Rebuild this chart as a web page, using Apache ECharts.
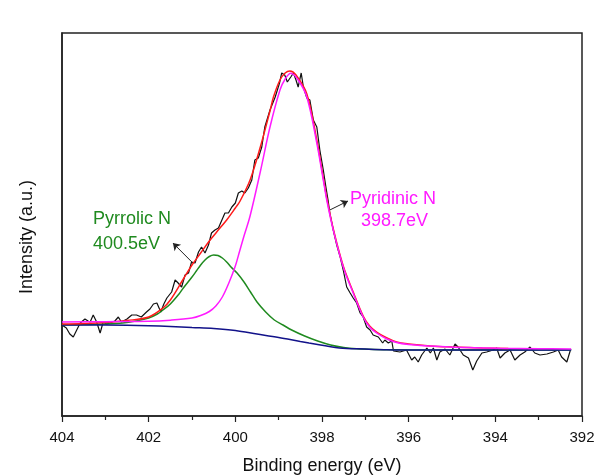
<!DOCTYPE html>
<html>
<head>
<meta charset="utf-8" />
<title>N 1s XPS</title>
<script src="https://cdn.jsdelivr.net/npm/echarts@6/dist/echarts.min.js"></script>
<style>
  html, body { margin: 0; padding: 0; background: #fff; }
  #chart { width: 602px; height: 476px; }
</style>
</head>
<body>
<div id="chart"></div>
<script>
// binding energy (eV) ticks
var xTicks = [404, 402, 400, 398, 396, 394, 392];

// raw spectrum [eV, intensity]
var rawData = [
  [404.0, 91], [403.9, 88], [403.82, 82], [403.74, 79], [403.66, 86], [403.58, 93], [403.47, 97],
  [403.4, 95], [403.35, 94], [403.28, 101], [403.2, 94], [403.12, 83], [403.05, 94], [402.97, 92],
  [402.9, 93], [402.78, 95], [402.7, 99], [402.63, 94], [402.5, 97], [402.39, 101], [402.28, 101],
  [402.17, 99], [402.05, 104], [401.97, 107], [401.89, 112], [401.81, 113], [401.72, 104],
  [401.65, 112], [401.58, 118], [401.47, 124], [401.39, 136], [401.32, 133], [401.24, 129],
  [401.16, 141], [401.08, 143], [401.01, 154], [400.93, 153], [400.85, 164], [400.78, 169],
  [400.7, 163], [400.62, 171], [400.55, 183], [400.47, 186], [400.39, 188], [400.31, 196],
  [400.24, 203], [400.16, 203], [400.08, 209], [400.0, 213], [399.93, 223], [399.85, 225],
  [399.78, 223], [399.7, 228], [399.62, 236], [399.55, 256], [399.47, 258], [399.39, 269],
  [399.32, 289], [399.2, 306], [399.08, 319], [398.98, 333], [398.93, 343], [398.86, 341],
  [398.8, 334], [398.72, 339], [398.66, 343], [398.6, 336], [398.55, 329], [398.48, 343],
  [398.43, 329], [398.35, 318], [398.28, 316], [398.2, 296], [398.12, 289], [398.05, 266],
  [397.97, 246], [397.91, 229], [397.86, 216], [397.82, 203], [397.74, 186], [397.66, 171],
  [397.58, 159], [397.51, 146], [397.43, 129], [397.35, 123], [397.28, 118], [397.2, 113],
  [397.12, 103], [397.05, 99], [396.97, 89], [396.89, 86], [396.82, 81], [396.7, 79],
  [396.6, 73], [396.55, 76], [396.47, 73], [396.39, 75], [396.35, 65], [396.2, 64],
  [396.05, 66], [395.93, 56], [395.86, 59], [395.78, 54], [395.7, 61], [395.58, 68],
  [395.5, 63], [395.43, 68], [395.35, 56], [395.28, 64], [395.16, 67], [395.05, 61],
  [394.93, 72], [394.86, 69], [394.74, 61], [394.62, 58], [394.52, 46], [394.43, 55],
  [394.31, 63], [394.2, 64], [394.05, 66], [393.97, 68], [393.89, 58], [393.78, 63],
  [393.66, 66], [393.55, 56], [393.43, 61], [393.32, 64], [393.2, 69], [393.09, 63],
  [392.97, 61], [392.81, 62], [392.66, 64], [392.55, 66], [392.47, 59], [392.35, 54],
  [392.26, 67]
];

// envelope fit
var fitData = [
  [404, 92], [403.5, 92.5], [403, 93.5], [402.5, 95.5], [402, 99], [401.67, 108], [401.5, 116],
  [401.2, 137], [401, 151], [400.8, 163], [400.6, 175], [400.43, 184], [400.2, 196], [400, 208],
  [399.89, 215], [399.66, 236], [399.43, 268], [399.2, 305], [399.12, 319], [398.97, 336],
  [398.85, 343], [398.74, 345], [398.6, 341], [398.35, 322], [398.12, 276], [397.97, 238],
  [397.89, 218], [397.74, 187], [397.51, 150], [397.28, 124], [397.05, 100], [396.9, 90],
  [396.74, 84], [396.5, 78], [396.28, 74], [396, 72], [395.5, 70], [395, 69], [394.3, 68],
  [393.7, 67.5]
];

// Pyridinic N component (398.7 eV)
var pyridinicData = [
  [404, 94], [403, 94.3], [402, 94.7], [401.5, 95.8], [401, 98], [400.8, 100.5], [400.6, 104.5],
  [400.45, 110], [400.3, 119], [400.15, 133], [400, 150], [399.9, 165], [399.8, 180],
  [399.66, 200], [399.43, 243], [399.2, 289], [398.97, 326], [398.85, 337], [398.72, 342.7],
  [398.55, 336], [398.35, 319], [398.12, 273], [397.97, 236], [397.89, 216], [397.74, 186],
  [397.51, 149], [397.28, 123], [397.05, 99], [396.9, 89], [396.74, 83], [396.5, 77],
  [396.28, 73.5], [396, 71.5], [395.5, 70], [395.05, 69], [394.5, 68.3], [393.9, 67.7],
  [393, 67.3], [392.25, 67]
];

// Pyrrolic N component (400.5 eV)
var pyrrolicData = [
  [404, 91.2], [403.5, 91.5], [403, 92], [402.6, 93], [402.3, 95], [402, 98], [401.8, 102],
  [401.67, 106], [401.5, 112], [401.3, 122], [401.2, 128], [401, 139], [400.9, 145],
  [400.8, 151], [400.7, 156], [400.6, 159.5], [400.5, 161], [400.4, 160.5], [400.3, 158],
  [400.2, 154], [400.1, 149], [399.96, 143], [399.8, 134], [399.65, 124], [399.5, 114],
  [399.3, 104], [399.1, 96], [398.9, 91], [398.7, 86], [398.4, 80], [398.1, 75], [397.8, 71],
  [397.5, 68.5], [397.2, 67.3], [396.8, 66.6], [396.3, 66.2], [395.5, 66], [392.25, 66]
];

// Shirley background
var baselineData = [
  [404, 91], [403, 91], [402.5, 90.8], [402, 90.3], [401.5, 89.5], [401, 88.5], [400.5, 87.5],
  [400, 85.5], [399.5, 82], [399, 78.5], [398.5, 74.5], [398.3, 73], [397.6, 68], [397, 67],
  [396.5, 66.3], [396, 66], [392.25, 66]
];

var chart = echarts.init(document.getElementById("chart"));
var font = "Liberation Sans, Arial, sans-serif";

function fitLine(name, data, color, z) {
  return {
    name: name,
    type: "line",
    data: data,
    smooth: 0.35,
    showSymbol: false,
    z: z,
    lineStyle: { color: color, width: 1.5 },
    silent: true
  };
}

var option = {
  backgroundColor: "#fff",
  animation: false,
  grid: {
    left: 62, right: 20, top: 33, bottom: 60,
    containLabel: false, outerBoundsMode: "none",
    show: true, borderColor: "#222", borderWidth: 1.5, backgroundColor: "transparent"
  },
  xAxis: {
    type: "value",
    inverse: true,
    min: 392,
    max: 404,
    interval: 2,
    name: "Binding energy (eV)",
    nameLocation: "middle",
    nameGap: 41,
    nameTextStyle: { fontFamily: font, fontSize: 18, color: "#111" },
    axisLine: { show: true, onZero: false, lineStyle: { color: "#222", width: 1.5 } },
    axisTick: { show: true, length: 6, lineStyle: { color: "#222", width: 1.2 } },
    minorTick: { show: true, splitNumber: 2, length: 4, lineStyle: { color: "#222", width: 1.2 } },
    axisLabel: { fontFamily: font, fontSize: 15, color: "#111", margin: 14,
      formatter: function (v) { return xTicks.indexOf(v) >= 0 ? String(v) : ""; } },
    splitLine: { show: false }
  },
  yAxis: {
    type: "value",
    min: 0,
    max: 383,
    axisLine: { show: true, lineStyle: { color: "#222", width: 1.5 } },
    axisTick: { show: false },
    axisLabel: { show: false },
    splitLine: { show: false }
  },
  series: [
    {
      name: "Raw",
      type: "line",
      data: rawData,
      showSymbol: false,
      z: 2,
      lineStyle: { color: "#111", width: 1.2 },
      silent: true,
      markLine: {
        silent: true,
        animation: false,
        lineStyle: { color: "#222", width: 1, type: "solid" },
        label: { show: false },
        symbolSize: 7,
        data: [
          [{ coord: [400.98, 153], symbol: "none" }, { coord: [401.44, 173], symbol: "arrow" }],
          [{ coord: [397.82, 206], symbol: "none" }, { coord: [397.40, 215], symbol: "arrow" }]
        ]
      }
    },
    fitLine("Pyrrolic N", pyrrolicData, "#1f8a1f", 3),
    fitLine("Background", baselineData, "#12128a", 4),
    fitLine("Fit", fitData, "#ff1a1a", 5),
    fitLine("Pyridinic N", pyridinicData, "#ff1aff", 6)
  ],
  graphic: [
    { type: "text", left: 93, top: 210, style: { text: "Pyrrolic N", fontFamily: font, fontSize: 18, fill: "#1f8a1f" } },
    { type: "text", left: 93, top: 235, style: { text: "400.5eV", fontFamily: font, fontSize: 18, fill: "#1f8a1f" } },
    { type: "text", left: 350, top: 190, style: { text: "Pyridinic N", fontFamily: font, fontSize: 18, fill: "#ff1aff" } },
    { type: "text", left: 361, top: 212, style: { text: "398.7eV", fontFamily: font, fontSize: 18, fill: "#ff1aff" } },
    { type: "text", x: 27, y: 237, rotation: Math.PI / 2,
      style: { text: "Intensity (a.u.)", fontFamily: font, fontSize: 18, fill: "#111", align: "center", verticalAlign: "middle" } }
  ]
};

chart.setOption(option);
</script>
</body>
</html>
